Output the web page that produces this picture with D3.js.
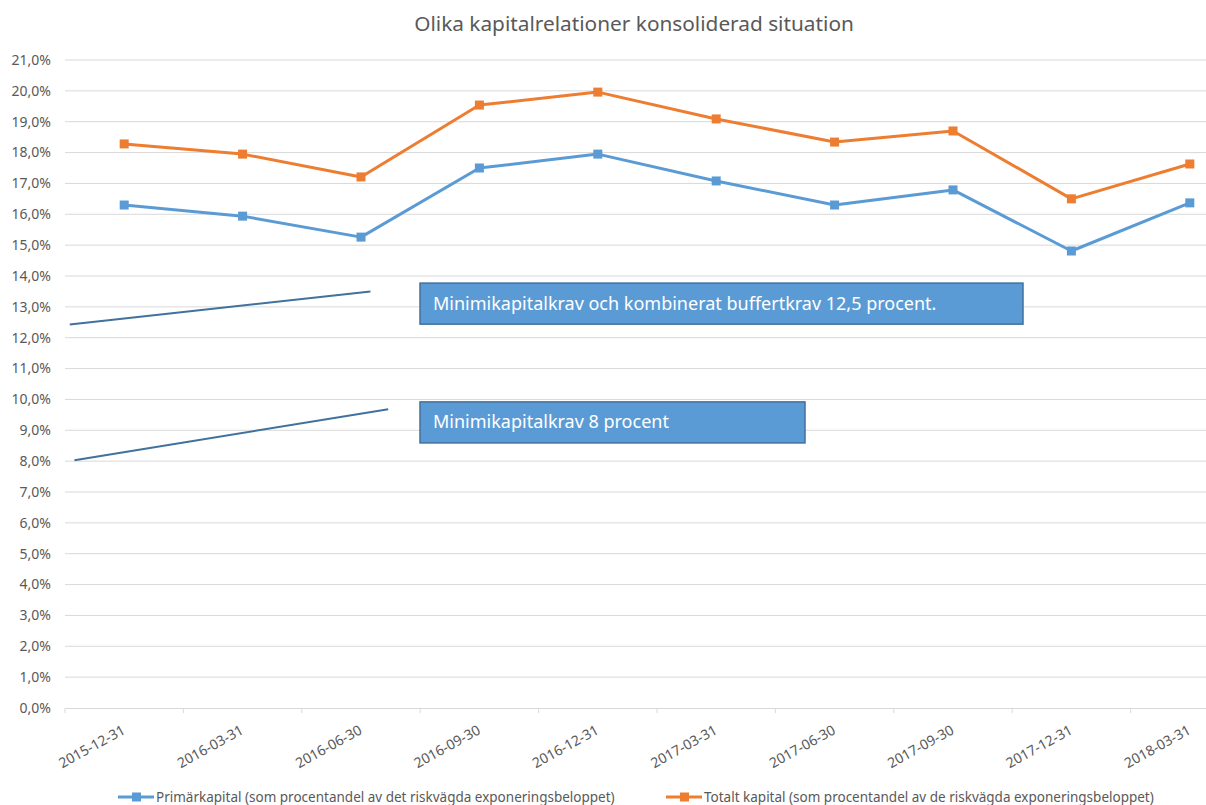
<!DOCTYPE html>
<html><head><meta charset="utf-8">
<script src="https://cdn.jsdelivr.net/npm/d3@7"></script>
<style>body{margin:0;background:#fff;} svg{display:block;}</style>
</head><body>
<svg id="c" width="1206" height="805"></svg>
<script>
const categories = ["2015-12-31","2016-03-31","2016-06-30","2016-09-30","2016-12-31","2017-03-31","2017-06-30","2017-09-30","2017-12-31","2018-03-31"];
const primarkapital = [16.30,15.94,15.26,17.50,17.95,17.08,16.30,16.79,14.81,16.37];
const totaltKapital = [18.28,17.95,17.21,19.54,19.96,19.09,18.34,18.70,16.50,17.63];
const yTicks = [0,1,2,3,4,5,6,7,8,9,10,11,12,13,14,15,16,17,18,19,20,21];
const seriesNames = ["Primärkapital (som procentandel av det riskvägda exponeringsbeloppet)","Totalt kapital (som procentandel av de riskvägda exponeringsbeloppet)"];
const chartTitle = "Olika kapitalrelationer konsoliderad situation";
const annotations = [
  {text:"Minimikapitalkrav och kombinerat buffertkrav 12,5 procent.", lineFrom:[0.04,12.43], lineTo:[2.58,13.5]},
  {text:"Minimikapitalkrav 8 procent", lineFrom:[0.08,8.03], lineTo:[2.73,9.68]}
];

(function(){
const font = "'Noto Sans', 'Open Sans', sans-serif";
const svg = d3.select("#c");
const pL = 65, pR = 1249, pT = 60, pB = 708;
const x = d3.scaleBand().domain(categories).range([pL, pR]);
const y = d3.scaleLinear().domain([0,21]).range([pB, pT]);
const xPos = i => x(categories[i]) + x.bandwidth()/2;

svg.append("g").selectAll("line").data(yTicks.slice(1)).join("line")
  .attr("x1", pL).attr("x2", pR)
  .attr("y1", d=>y(d)).attr("y2", d=>y(d))
  .attr("stroke", "#d9d9d9").attr("stroke-width", 1);

svg.append("g").selectAll("text").data(yTicks).join("text")
  .attr("x", 51).attr("y", d=>y(d)).attr("dy","0.35em")
  .attr("text-anchor","end").attr("font-family",font).attr("font-size",14)
  .attr("fill","#595959").text(d=>d.toFixed(1).replace(".",",")+"%");

const xAxis = d3.axisBottom(x).tickSize(0).tickFormat("");
const gx = svg.append("g").attr("transform",`translate(0,${pB})`).call(xAxis);
gx.select(".domain").attr("stroke","#d9d9d9");
const bounds = d3.range(categories.length+1).map(i=>pL + x.bandwidth()*i);
svg.append("g").selectAll("line").data(bounds).join("line")
  .attr("x1",d=>d).attr("x2",d=>d).attr("y1",pB).attr("y2",pB+5)
  .attr("stroke","#d9d9d9");
svg.append("g").selectAll("text").data(categories).join("text")
  .attr("transform",(d)=>`translate(${x(d)+x.bandwidth()/2+2},${pB+25}) rotate(-29)`)
  .attr("text-anchor","end").attr("font-family",font).attr("font-size",14)
  .attr("fill","#595959").text(d=>d);

svg.append("g").selectAll("line").data(annotations).join("line")
  .attr("x1",d=>pL + x.bandwidth()*d.lineFrom[0]).attr("y1",d=>y(d.lineFrom[1]))
  .attr("x2",d=>pL + x.bandwidth()*d.lineTo[0]).attr("y2",d=>y(d.lineTo[1]))
  .attr("stroke","#41719c").attr("stroke-width",2);

const series = [
  {name:seriesNames[0], values:primarkapital, color:"#5b9bd5"},
  {name:seriesNames[1], values:totaltKapital, color:"#ed7d31"}
];
const line = d3.line().x((d,i)=>xPos(i)).y(d=>y(d));
series.forEach(s=>{
  svg.append("path").datum(s.values).attr("d",line)
    .attr("fill","none").attr("stroke",s.color).attr("stroke-width",3).attr("stroke-linejoin","round");
  svg.append("g").selectAll("rect").data(s.values).join("rect")
    .attr("x",(d,i)=>xPos(i)-4.5).attr("y",d=>y(d)-4.5)
    .attr("width",9).attr("height",9).attr("fill",s.color);
});

const boxes = [
  {x0:420, x1:1023, yTop:13.77, yBot:12.44},
  {x0:420, x1:805, yTop:9.92, yBot:8.59}
];
annotations.forEach((a,i)=>{
  const b = boxes[i];
  const g = svg.append("g");
  g.append("rect").attr("x",b.x0).attr("y",y(b.yTop)).attr("width",b.x1-b.x0)
    .attr("height",y(b.yBot)-y(b.yTop)).attr("fill","#5b9bd5")
    .attr("stroke","#41719c").attr("stroke-width",1.5);
  g.append("text").attr("x",b.x0+13).attr("y",(y(b.yTop)+y(b.yBot))/2).attr("dy","0.33em")
    .attr("font-family",font).attr("font-size",18).attr("fill","#fff").text(a.text);
});

svg.append("text").attr("x",634).attr("y",31).attr("text-anchor","middle")
  .attr("font-family",font).attr("font-size",20.8).attr("fill","#595959").text(chartTitle);

const legendX = [118, 666];
series.forEach((s,i)=>{
  const g = svg.append("g").attr("transform",`translate(${legendX[i]},797)`);
  g.append("line").attr("x1",0).attr("x2",36).attr("y1",0).attr("y2",0)
    .attr("stroke",s.color).attr("stroke-width",3);
  g.append("rect").attr("x",14).attr("y",-4.5).attr("width",9).attr("height",9).attr("fill",s.color);
  g.append("text").attr("x",38).attr("y",0).attr("dy","0.35em")
    .attr("font-family",font).attr("font-size",13.5).attr("fill","#595959").text(s.name);
});
})();
</script>
</body></html>
